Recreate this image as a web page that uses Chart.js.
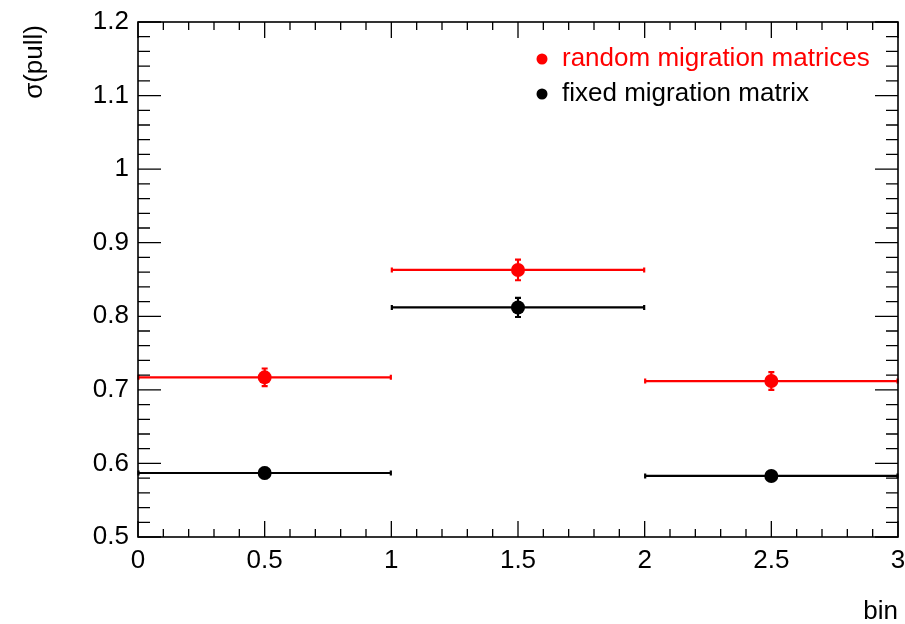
<!DOCTYPE html>
<html>
<head>
<meta charset="utf-8">
<script src="https://cdn.jsdelivr.net/npm/chart.js@4"></script>
<style>
  html, body { margin: 0; padding: 0; background: #fff; }
  #wrap { width: 905px; height: 624px; }
</style>
</head>
<body>
<div id="wrap"><canvas id="c" width="905" height="624"></canvas></div>
<script>
// Pull widths per bin for the two unfolding setups
const binCenters = [0.5, 1.5, 2.5];
const binLow = [0, 1, 2];
const binHigh = [1, 2, 3];

const randomSigma = [0.717, 0.863, 0.712];
const randomErr = [0.012, 0.014, 0.012];
const fixedSigma = [0.587, 0.812, 0.583];
const fixedErr = [0.007, 0.013, 0.006];

const seriesNames = ['random migration matrices', 'fixed migration matrix'];
const seriesColors = ['#ff0000', '#000000'];

const xTickValues = [0, 0.5, 1, 1.5, 2, 2.5, 3];
const xTickLabels = ['0', '0.5', '1', '1.5', '2', '2.5', '3'];
const yTickValues = [0.5, 0.6, 0.7, 0.8, 0.9, 1.0, 1.1, 1.2];
const yTickLabels = ['0.5', '0.6', '0.7', '0.8', '0.9', '1', '1.1', '1.2'];

const xTitle = 'bin';
const yTitle = 'σ(pull)';

const FONT = '"Liberation Sans", Arial, Helvetica, sans-serif';

function points(vals) {
  return binCenters.map((x, i) => ({ x: x, y: vals[i] }));
}

// Error bars: horizontal = bin width, vertical = statistical error
const errorBars = {
  id: 'errorBars',
  beforeDatasetsDraw(chart) {
    const { ctx, scales: { x, y } } = chart;
    const sets = [
      { v: fixedSigma, e: fixedErr, c: seriesColors[1] },
      { v: randomSigma, e: randomErr, c: seriesColors[0] }
    ];
    ctx.save();
    sets.forEach(s => {
      ctx.strokeStyle = s.c;
      ctx.lineWidth = 2.2;
      s.v.forEach((v, i) => {
        const py = y.getPixelForValue(v);
        const x0 = x.getPixelForValue(binLow[i]);
        const x1 = x.getPixelForValue(binHigh[i]);
        const px = x.getPixelForValue(binCenters[i]);
        const yTop = y.getPixelForValue(v + s.e[i]);
        const yBot = y.getPixelForValue(v - s.e[i]);
        ctx.beginPath();
        ctx.moveTo(x0, py); ctx.lineTo(x1, py);
        // end caps on the horizontal bar
        ctx.moveTo(x0 + 0.5, py - 2.5); ctx.lineTo(x0 + 0.5, py + 2.5);
        ctx.moveTo(x1 - 0.5, py - 2.5); ctx.lineTo(x1 - 0.5, py + 2.5);
        // vertical error with caps
        ctx.moveTo(px, yTop); ctx.lineTo(px, yBot);
        ctx.moveTo(px - 3, yTop); ctx.lineTo(px + 3, yTop);
        ctx.moveTo(px - 3, yBot); ctx.lineTo(px + 3, yBot);
        ctx.stroke();
      });
    });
    ctx.restore();
  }
};

// Frame, inward tick marks on all four sides, axis titles and legend
const frameDecor = {
  id: 'frameDecor',
  afterDraw(chart) {
    const { ctx, chartArea: a, scales: { x, y } } = chart;
    ctx.save();
    ctx.strokeStyle = '#000';
    ctx.lineWidth = 1.6;
    ctx.strokeRect(a.left, a.top, a.right - a.left, a.bottom - a.top);

    ctx.lineWidth = 1.3;
    ctx.beginPath();
    // x axis: major every 0.5, minor every 0.1
    for (let k = 0; k <= 30; k++) {
      const v = k / 10;
      const px = x.getPixelForValue(v);
      const len = (k % 5 === 0) ? 16 : 8;
      ctx.moveTo(px, a.bottom); ctx.lineTo(px, a.bottom - len);
      ctx.moveTo(px, a.top); ctx.lineTo(px, a.top + len);
    }
    // y axis: major every 0.1, minor every 0.02
    for (let k = 0; k <= 35; k++) {
      const v = 0.5 + k * 0.02;
      const py = y.getPixelForValue(v);
      const len = (k % 5 === 0) ? 23 : 12;
      ctx.moveTo(a.left, py); ctx.lineTo(a.left + len, py);
      ctx.moveTo(a.right, py); ctx.lineTo(a.right - len, py);
    }
    ctx.stroke();

    // axis titles
    ctx.fillStyle = '#000';
    ctx.font = '26px ' + FONT;
    ctx.textAlign = 'right';
    ctx.textBaseline = 'alphabetic';
    ctx.fillText(xTitle, a.right, 619);
    ctx.save();
    ctx.translate(42, 25);
    ctx.rotate(-Math.PI / 2);
    ctx.textAlign = 'right';
    ctx.fillText(yTitle, 0, 0);
    ctx.restore();

    // legend
    const rows = [
      { name: seriesNames[0], color: seriesColors[0], y: 59 },
      { name: seriesNames[1], color: seriesColors[1], y: 94 }
    ];
    ctx.textAlign = 'left';
    ctx.textBaseline = 'middle';
    rows.forEach(r => {
      ctx.fillStyle = r.color;
      ctx.beginPath();
      ctx.arc(542, r.y, 5.5, 0, Math.PI * 2);
      ctx.fill();
      ctx.fillText(r.name, 562, r.y);
    });
    ctx.restore();
  }
};

new Chart(document.getElementById('c'), {
  type: 'scatter',
  data: {
    datasets: [
      {
        label: seriesNames[1],
        data: points(fixedSigma),
        backgroundColor: seriesColors[1],
        borderColor: seriesColors[1],
        pointRadius: 7,
        pointBorderWidth: 0
      },
      {
        label: seriesNames[0],
        data: points(randomSigma),
        backgroundColor: seriesColors[0],
        borderColor: seriesColors[0],
        pointRadius: 7,
        pointBorderWidth: 0
      }
    ]
  },
  options: {
    responsive: false,
    animation: false,
    events: [],
    layout: { padding: { left: 0, top: 22, right: 7, bottom: 0 } },
    plugins: {
      legend: { display: false },
      tooltip: { enabled: false }
    },
    scales: {
      x: {
        type: 'linear',
        min: 0,
        max: 3,
        grid: { display: false, drawTicks: false },
        border: { display: false },
        afterBuildTicks(s) { s.ticks = xTickValues.map(v => ({ value: v })); },
        afterFit(s) { s.height = 87; s.paddingLeft = 0; s.paddingRight = 0; },
        ticks: {
          maxRotation: 0,
          autoSkip: false,
          padding: 8,
          color: '#000',
          font: { family: FONT, size: 26 },
          callback(v) {
            const i = xTickValues.indexOf(v);
            return i >= 0 ? xTickLabels[i] : '';
          }
        }
      },
      y: {
        type: 'linear',
        min: 0.5,
        max: 1.2,
        grid: { display: false, drawTicks: false },
        border: { display: false },
        afterBuildTicks(s) { s.ticks = yTickValues.map(v => ({ value: v })); },
        afterFit(s) { s.width = 138; s.paddingTop = 0; s.paddingBottom = 0; },
        ticks: {
          autoSkip: false,
          padding: 9,
          color: '#000',
          font: { family: FONT, size: 26 },
          callback(v) {
            const i = yTickValues.findIndex(t => Math.abs(t - v) < 1e-9);
            return i >= 0 ? yTickLabels[i] : '';
          }
        }
      }
    }
  },
  plugins: [errorBars, frameDecor]
});
</script>
</body>
</html>
